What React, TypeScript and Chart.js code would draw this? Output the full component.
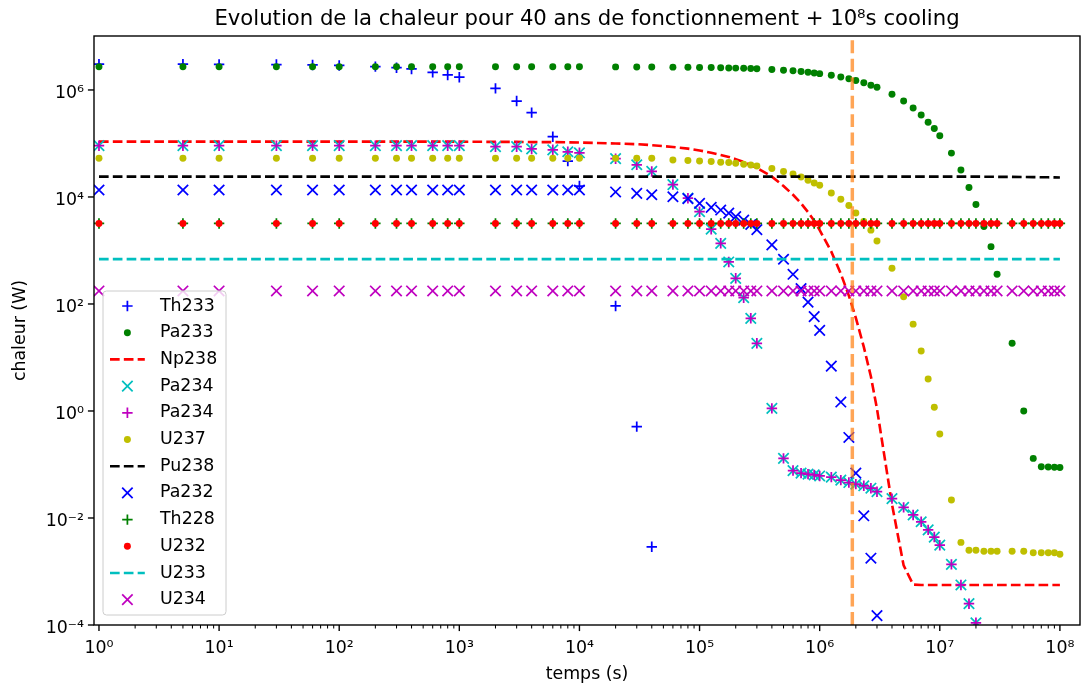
import { useEffect, useRef } from 'react';
import { Chart, registerables } from 'chart.js';

Chart.register(...registerables);

// Sampling times (s)
const TIME_S = [
  1, 5, 10, 30, 60, 100, 200, 300, 400, 600, 800,
  1e3, 2e3, 3e3, 4e3, 6e3, 8e3,
  1e4, 2e4, 3e4, 4e4, 6e4, 8e4,
  1e5, 1.25e5, 1.5e5, 1.75e5, 2e5, 2.33e5, 2.67e5, 3e5, 4e5, 5e5, 6e5, 7e5, 8e5, 9e5,
  1e6, 1.25e6, 1.5e6, 1.75e6, 2e6, 2.33e6, 2.67e6, 3e6, 4e6, 5e6, 6e6, 7e6, 8e6, 9e6,
  1e7, 1.25e7, 1.5e7, 1.75e7, 2e7, 2.33e7, 2.67e7, 3e7, 4e7, 5e7, 6e7, 7e7, 8e7, 9e7,
  1e8,
];

// Decay heat per nuclide (W), one value per sampling time
const TH233 = [
  3.03e6, 3.03e6, 3.0e6, 2.98e6, 2.93e6, 2.87e6, 2.73e6, 2.61e6, 2.47e6, 2.14e6, 1.91e6,
  1.73e6, 1.07e6, 6.2e5, 3.77e5, 1.34e5, 4.7e4,
  1.6e4, 92, 0.51, 2.9e-3,
];

const PA233 = [
  2.72e6, 2.72e6, 2.72e6, 2.72e6, 2.72e6, 2.72e6, 2.72e6, 2.72e6, 2.72e6, 2.72e6, 2.72e6,
  2.72e6, 2.72e6, 2.72e6, 2.72e6, 2.72e6, 2.72e6,
  2.71e6, 2.70e6, 2.69e6, 2.69e6, 2.67e6, 2.66e6,
  2.64e6, 2.62e6, 2.61e6, 2.58e6, 2.56e6, 2.54e6, 2.52e6, 2.49e6, 2.42e6, 2.34e6, 2.28e6, 2.21e6, 2.15e6, 2.08e6,
  2.02e6, 1.88e6, 1.74e6, 1.62e6, 1.50e6, 1.36e6, 1.23e6, 1.12e6, 8.3e5, 6.2e5, 4.6e5, 3.4e5, 2.5e5, 1.9e5,
  1.4e5, 6.6e4, 3.2e4, 1.5e4, 7.2e3, 2.8e3, 1.18e3, 360, 18.4, 1.0, 0.13, 0.091, 0.09, 0.089,
  0.088,
];

const NP238 = [
  1.08e5, 1.08e5, 1.08e5, 1.08e5, 1.08e5, 1.08e5, 1.08e5, 1.08e5, 1.08e5, 1.08e5, 1.08e5,
  1.08e5, 1.07e5, 1.07e5, 1.06e5, 1.06e5, 1.05e5,
  1.04e5, 1.0e5, 9.7e4, 9.3e4, 8.6e4, 8.0e4,
  7.4e4, 6.7e4, 6.1e4, 5.6e4, 5.1e4, 4.5e4, 3.9e4, 3.5e4, 2.4e4, 1.6e4, 1.1e4, 7.6e3, 5.2e3, 3.6e3,
  2.4e3, 950, 367, 143, 55, 15.8, 4.4, 1.1, 0.018, 1.3e-3, 5.7e-4, 5.6e-4, 5.6e-4, 5.6e-4,
  5.6e-4, 5.6e-4, 5.6e-4, 5.6e-4, 5.6e-4, 5.6e-4, 5.6e-4, 5.6e-4, 5.6e-4, 5.6e-4, 5.6e-4, 5.6e-4, 5.6e-4, 5.6e-4,
  5.6e-4,
];

const PA234 = [
  9.1e4, 9.1e4, 9.1e4, 9.1e4, 9.1e4, 9.1e4, 9.1e4, 9.1e4, 9.1e4, 9.1e4, 9.1e4,
  9.1e4, 8.7e4, 8.7e4, 7.9e4, 7.6e4, 7.0e4,
  6.7e4, 5.2e4, 4.0e4, 3.0e4, 1.7e4, 9.5e3,
  5.3e3, 2.5e3, 1.36e3, 610, 302, 131, 54, 18.4, 1.12, 0.13, 0.077, 0.069, 0.066, 0.064,
  0.061, 0.058, 0.051, 0.046, 0.043, 0.040, 0.036, 0.031, 0.023, 0.0158, 0.0114, 8.5e-3, 6.0e-3, 4.4e-3,
  3.1e-3, 1.36e-3, 5.6e-4, 2.5e-4, 1.1e-4,
];

const U237 = [
  5.3e4, 5.3e4, 5.3e4, 5.3e4, 5.3e4, 5.3e4, 5.3e4, 5.3e4, 5.3e4, 5.3e4, 5.3e4,
  5.3e4, 5.3e4, 5.3e4, 5.3e4, 5.3e4, 5.3e4,
  5.3e4, 5.3e4, 5.3e4, 5.3e4, 4.9e4, 4.8e4,
  4.7e4, 4.6e4, 4.45e4, 4.4e4, 4.27e4, 4.1e4, 3.96e4, 3.8e4, 3.4e4, 3.0e4, 2.7e4, 2.37e4, 2.05e4, 1.83e4,
  1.66e4, 1.19e4, 9.1e3, 6.9e3, 5.0e3, 3.5e3, 2.4e3, 1.5e3, 465, 137, 42, 13.2, 3.96, 1.17,
  0.37, 0.0217, 3.5e-3, 2.5e-3, 2.5e-3, 2.4e-3, 2.4e-3, 2.4e-3, 2.4e-3, 2.4e-3, 2.25e-3, 2.25e-3, 2.25e-3, 2.25e-3,
  2.1e-3,
];

const PU238 = [
  2.4e4, 2.4e4, 2.4e4, 2.4e4, 2.4e4, 2.4e4, 2.4e4, 2.4e4, 2.4e4, 2.4e4, 2.4e4,
  2.4e4, 2.4e4, 2.4e4, 2.4e4, 2.4e4, 2.4e4,
  2.4e4, 2.4e4, 2.4e4, 2.4e4, 2.4e4, 2.4e4,
  2.4e4, 2.4e4, 2.4e4, 2.4e4, 2.4e4, 2.4e4, 2.4e4, 2.4e4, 2.4e4, 2.4e4, 2.4e4, 2.4e4, 2.4e4, 2.4e4,
  2.4e4, 2.4e4, 2.4e4, 2.4e4, 2.4e4, 2.4e4, 2.4e4, 2.4e4, 2.4e4, 2.4e4, 2.4e4, 2.4e4, 2.4e4, 2.4e4,
  2.4e4, 2.4e4, 2.4e4, 2.4e4, 2.4e4, 2.39e4, 2.39e4, 2.38e4, 2.37e4, 2.36e4, 2.35e4, 2.34e4, 2.33e4, 2.32e4,
  2.31e4,
];

const PA232 = [
  1.35e4, 1.35e4, 1.35e4, 1.35e4, 1.35e4, 1.35e4, 1.35e4, 1.35e4, 1.35e4, 1.35e4, 1.35e4,
  1.35e4, 1.35e4, 1.35e4, 1.35e4, 1.35e4, 1.35e4,
  1.35e4, 1.24e4, 1.17e4, 1.10e4, 1.01e4, 9.3e3,
  7.6e3, 6.4e3, 5.7e3, 5.0e3, 4.3e3, 3.7e3, 3.06e3, 2.45e3, 1.27e3, 686, 359, 193, 108, 58,
  32, 6.9, 1.47, 0.32, 0.069, 0.011, 1.77e-3, 1.5e-4,
];

const TH228 = [
  3.2e3, 3.2e3, 3.2e3, 3.2e3, 3.2e3, 3.2e3, 3.2e3, 3.2e3, 3.2e3, 3.2e3, 3.2e3,
  3.2e3, 3.2e3, 3.2e3, 3.2e3, 3.2e3, 3.2e3,
  3.2e3, 3.2e3, 3.2e3, 3.2e3, 3.2e3, 3.2e3,
  3.2e3, 3.2e3, 3.2e3, 3.2e3, 3.2e3, 3.2e3, 3.2e3, 3.2e3, 3.2e3, 3.2e3, 3.2e3, 3.2e3, 3.2e3, 3.2e3,
  3.2e3, 3.2e3, 3.2e3, 3.2e3, 3.2e3, 3.2e3, 3.2e3, 3.2e3, 3.2e3, 3.2e3, 3.2e3, 3.2e3, 3.2e3, 3.2e3,
  3.2e3, 3.2e3, 3.2e3, 3.2e3, 3.2e3, 3.2e3, 3.2e3, 3.2e3, 3.2e3, 3.2e3, 3.2e3, 3.2e3, 3.2e3, 3.2e3,
  3.2e3,
];

const U232 = [
  3.2e3, 3.2e3, 3.2e3, 3.2e3, 3.2e3, 3.2e3, 3.2e3, 3.2e3, 3.2e3, 3.2e3, 3.2e3,
  3.2e3, 3.2e3, 3.2e3, 3.2e3, 3.2e3, 3.2e3,
  3.2e3, 3.2e3, 3.2e3, 3.2e3, 3.2e3, 3.2e3,
  3.2e3, 3.2e3, 3.2e3, 3.2e3, 3.2e3, 3.2e3, 3.2e3, 3.2e3, 3.2e3, 3.2e3, 3.2e3, 3.2e3, 3.2e3, 3.2e3,
  3.2e3, 3.2e3, 3.2e3, 3.2e3, 3.2e3, 3.2e3, 3.2e3, 3.2e3, 3.2e3, 3.2e3, 3.2e3, 3.2e3, 3.2e3, 3.2e3,
  3.2e3, 3.2e3, 3.2e3, 3.2e3, 3.2e3, 3.2e3, 3.2e3, 3.2e3, 3.2e3, 3.2e3, 3.2e3, 3.2e3, 3.2e3, 3.2e3,
  3.2e3,
];

const U233 = [
  690, 690, 690, 690, 690, 690, 690, 690, 690, 690, 690,
  690, 690, 690, 690, 690, 690,
  690, 690, 690, 690, 690, 690,
  690, 690, 690, 690, 690, 690, 690, 690, 690, 690, 690, 690, 690, 690,
  690, 690, 690, 690, 690, 690, 690, 690, 690, 690, 690, 690, 690, 690,
  690, 690, 690, 690, 690, 690, 690, 690, 690, 690, 690, 690, 690, 690,
  690,
];

const U234 = [
  175, 175, 175, 175, 175, 175, 175, 175, 175, 175, 175,
  175, 175, 175, 175, 175, 175,
  175, 175, 175, 175, 175, 175,
  175, 175, 175, 175, 175, 175, 175, 175, 175, 175, 175, 175, 175, 175,
  175, 175, 175, 175, 175, 175, 175, 175, 175, 175, 175, 175, 175, 175,
  175, 175, 175, 175, 175, 175, 175, 175, 175, 175, 175, 175, 175, 175,
  175,
];

// Time of the vertical reference line (s)
const COOLING_MARK_S = 1.87e6;

// Axis text and ticks
const TITLE = 'Evolution de la chaleur pour 40 ans de fonctionnement + 10⁸s cooling';
const X_LABEL = 'temps (s)';
const Y_LABEL = 'chaleur (W)';
const X_MAJOR = [1, 10, 100, 1e3, 1e4, 1e5, 1e6, 1e7, 1e8];
const X_MINOR_SUBS = [2, 3, 4, 5, 6, 7, 8, 9];
const Y_MAJOR = [1e-4, 1e-2, 1, 1e2, 1e4, 1e6];

const X_MIN = 0.909;
const X_MAX = 1.47e8;
const Y_MIN = 1e-4;
const Y_MAX = 1.02e7;

const FONT = '"DejaVu Sans", sans-serif';
const PT = 1.74; // pixels per typographic point
const BASE_SIZE = 10 * PT;

const SUPERSCRIPT: Record<string, string> = {
  '-': '⁻', '0': '⁰', '1': '¹', '2': '²', '3': '³', '4': '⁴',
  '5': '⁵', '6': '⁶', '7': '⁷', '8': '⁸', '9': '⁹',
};
const decadeLabel = (v: number) => {
  const e = Math.round(Math.log10(v));
  return '10' + String(e).split('').map((c) => SUPERSCRIPT[c]).join('');
};
const isDecade = (v: number) => X_MAJOR.some((m) => Math.abs(m - v) / m < 1e-9);

const X_TICKS = [
  ...X_MAJOR,
  ...X_MAJOR.slice(0, -1).flatMap((d) => X_MINOR_SUBS.map((s) => s * d)),
].sort((a, b) => a - b);

type Marker = '+' | 'x' | '.';

const MARKER_OPTS: Record<Marker, { pointStyle: string; pointRadius: number; pointBorderWidth: number }> = {
  '+': { pointStyle: 'cross', pointRadius: 3 * PT, pointBorderWidth: PT },
  'x': { pointStyle: 'crossRot', pointRadius: 3 * PT * Math.SQRT2, pointBorderWidth: PT },
  '.': { pointStyle: 'circle', pointRadius: 2 * PT, pointBorderWidth: 0 },
};

const toPoints = (vals: (number | null)[]) =>
  vals
    .map((y, i) => ({ x: TIME_S[i], y }))
    .filter((p) => p.y !== null && p.y !== undefined);

function markerSeries(label: string, vals: (number | null)[], color: string, marker: Marker) {
  return {
    label,
    data: toPoints(vals),
    showLine: false,
    ...MARKER_OPTS[marker],
    pointHoverRadius: MARKER_OPTS[marker].pointRadius,
    pointBorderColor: color,
    pointBackgroundColor: color,
    borderColor: color,
    backgroundColor: color,
    clip: 0,
    legendMarker: marker,
  };
}

function dashedSeries(label: string, vals: (number | null)[], color: string) {
  const lw = 1.5 * PT;
  return {
    label,
    data: toPoints(vals),
    showLine: true,
    pointRadius: 0,
    pointHoverRadius: 0,
    borderColor: color,
    backgroundColor: color,
    borderWidth: lw,
    borderDash: [3.7 * lw, 1.6 * lw],
    tension: 0,
    fill: false,
    clip: 0,
  };
}

// Legend frame geometry
const LEGEND_BOX = { left: 103, top: 291, right: 226, bottom: 615 };
const LEGEND_ROW0 = 306;
const LEGEND_STEP = 26.7;
const HANDLE_X0 = 110;
const HANDLE_X1 = 144.8;
const LABEL_X = 160;

const axesFrame = {
  id: 'axesFrame',
  afterDatasetsDraw(chart: any) {
    const { ctx, chartArea: a, scales } = chart;
    const xs = scales.x;
    const ys = scales.y;
    ctx.save();
    ctx.strokeStyle = '#000';
    ctx.setLineDash([]);

    for (const v of X_TICKS) {
      const px = xs.getPixelForValue(v);
      const major = isDecade(v);
      ctx.lineWidth = major ? 0.8 * PT : 0.6 * PT;
      const len = major ? 3.5 * PT : 2 * PT;
      ctx.beginPath();
      ctx.moveTo(px, a.bottom);
      ctx.lineTo(px, a.bottom + len);
      ctx.stroke();
    }
    ctx.lineWidth = 0.8 * PT;
    for (const v of Y_MAJOR) {
      const py = ys.getPixelForValue(v);
      ctx.beginPath();
      ctx.moveTo(a.left - 3.5 * PT, py);
      ctx.lineTo(a.left, py);
      ctx.stroke();
    }
    ctx.strokeRect(a.left, a.top, a.right - a.left, a.bottom - a.top);

    // legend
    const b = LEGEND_BOX;
    ctx.beginPath();
    ctx.roundRect(b.left, b.top, b.right - b.left, b.bottom - b.top, 0.2 * BASE_SIZE);
    ctx.fillStyle = 'rgba(255,255,255,0.8)';
    ctx.fill();
    ctx.strokeStyle = '#cccccc';
    ctx.lineWidth = 1;
    ctx.stroke();

    const entries = chart.data.datasets.filter((d: any) => d.label);
    const cx = (HANDLE_X0 + HANDLE_X1) / 2;
    entries.forEach((d: any, i: number) => {
      const y = LEGEND_ROW0 + i * LEGEND_STEP;
      ctx.strokeStyle = d.borderColor;
      ctx.fillStyle = d.borderColor;
      if (d.showLine) {
        ctx.lineWidth = d.borderWidth;
        ctx.setLineDash(d.borderDash);
        ctx.beginPath();
        ctx.moveTo(HANDLE_X0, y);
        ctx.lineTo(HANDLE_X1, y);
        ctx.stroke();
        ctx.setLineDash([]);
      } else {
        const m = MARKER_OPTS[d.legendMarker as Marker];
        ctx.lineWidth = m.pointBorderWidth;
        ctx.beginPath();
        if (d.legendMarker === '.') {
          ctx.arc(cx, y, m.pointRadius, 0, Math.PI * 2);
          ctx.fill();
        } else if (d.legendMarker === '+') {
          const r = m.pointRadius;
          ctx.moveTo(cx - r, y);
          ctx.lineTo(cx + r, y);
          ctx.moveTo(cx, y - r);
          ctx.lineTo(cx, y + r);
          ctx.stroke();
        } else {
          const r = m.pointRadius * Math.SQRT1_2;
          ctx.moveTo(cx - r, y - r);
          ctx.lineTo(cx + r, y + r);
          ctx.moveTo(cx - r, y + r);
          ctx.lineTo(cx + r, y - r);
          ctx.stroke();
        }
      }
      ctx.fillStyle = '#000';
      ctx.font = `${BASE_SIZE}px ${FONT}`;
      ctx.textBaseline = 'middle';
      ctx.textAlign = 'left';
      ctx.fillText(d.label, LABEL_X, y);
    });
    ctx.restore();
  },
};

export default function App() {
  const canvasRef = useRef<HTMLCanvasElement>(null);

  useEffect(() => {
    const canvas = canvasRef.current;
    if (!canvas) return;

    const datasets: any[] = [
      markerSeries('Th233', TH233, '#0000ff', '+'),
      markerSeries('Pa233', PA233, '#008000', '.'),
      dashedSeries('Np238', NP238, '#ff0000'),
      markerSeries('Pa234', PA234, '#00bfbf', 'x'),
      markerSeries('Pa234', PA234, '#bf00bf', '+'),
      markerSeries('U237', U237, '#bfbf00', '.'),
      dashedSeries('Pu238', PU238, '#000000'),
      markerSeries('Pa232', PA232, '#0000ff', 'x'),
      markerSeries('Th228', TH228, '#008000', '+'),
      markerSeries('U232', U232, '#ff0000', '.'),
      dashedSeries('U233', U233, '#00bfbf'),
      markerSeries('U234', U234, '#bf00bf', 'x'),
      {
        label: '',
        data: [
          { x: COOLING_MARK_S, y: Y_MIN },
          { x: COOLING_MARK_S, y: Y_MAX },
        ],
        showLine: true,
        pointRadius: 0,
        pointHoverRadius: 0,
        borderColor: 'rgba(255,127,14,0.7)',
        borderWidth: 2 * PT,
        borderDash: [3.7 * 2 * PT, 1.6 * 2 * PT],
        clip: 0,
      },
    ];
    datasets.forEach((d, i) => {
      d.order = datasets.length - i;
    });

    const tickFont = { family: FONT, size: BASE_SIZE };

    const chart = new Chart(canvas, {
      type: 'scatter',
      data: { datasets },
      options: {
        animation: false,
        responsive: false,
        events: [],
        layout: { autoPadding: false, padding: { left: 0, right: 2, top: 0, bottom: 0 } },
        plugins: {
          legend: { display: false },
          tooltip: { enabled: false },
          title: {
            display: true,
            text: TITLE,
            fullSize: false,
            color: '#000',
            font: { family: FONT, size: 21.2, weight: 'normal' },
            padding: { top: 6.5, bottom: 4.06 },
          },
        },
        scales: {
          x: {
            type: 'logarithmic',
            position: 'bottom',
            min: X_MIN,
            max: X_MAX,
            bounds: 'data',
            afterBuildTicks: (s: any) => {
              s.ticks = X_TICKS.map((v) => ({ value: v }));
            },
            afterFit: (s: any) => {
              s.height = 63;
              s.paddingLeft = 0;
              s.paddingRight = 0;
            },
            grid: { display: false, drawTicks: false },
            border: { display: false },
            ticks: {
              autoSkip: false,
              maxRotation: 0,
              minRotation: 0,
              padding: 13,
              color: '#000',
              font: tickFont,
              callback: (v: any) => (isDecade(Number(v)) ? decadeLabel(Number(v)) : ''),
            },
            title: {
              display: true,
              text: X_LABEL,
              color: '#000',
              font: tickFont,
              padding: { top: 0, bottom: 2.6 },
            },
          },
          y: {
            type: 'logarithmic',
            position: 'left',
            min: Y_MIN,
            max: Y_MAX,
            bounds: 'data',
            afterBuildTicks: (s: any) => {
              s.ticks = Y_MAJOR.map((v) => ({ value: v }));
            },
            afterFit: (s: any) => {
              s.width = 94;
              s.paddingTop = 0;
              s.paddingBottom = 0;
            },
            grid: { display: false, drawTicks: false },
            border: { display: false },
            ticks: {
              autoSkip: false,
              padding: 10,
              labelOffset: 3.2,
              color: '#000',
              font: tickFont,
              callback: (v: any) => decadeLabel(Number(v)),
            },
            title: {
              display: true,
              text: Y_LABEL,
              color: '#000',
              font: tickFont,
              padding: { top: 9.6, bottom: 0 },
            },
          },
        },
      } as any,
      plugins: [axesFrame],
    });

    return () => chart.destroy();
  }, []);

  return (
    <div
      style={{
        position: 'absolute',
        left: 0,
        top: 0,
        width: 1082,
        height: 688,
        background: '#fff',
      }}
    >
      <canvas ref={canvasRef} width={1082} height={688} style={{ display: 'block' }} />
    </div>
  );
}
